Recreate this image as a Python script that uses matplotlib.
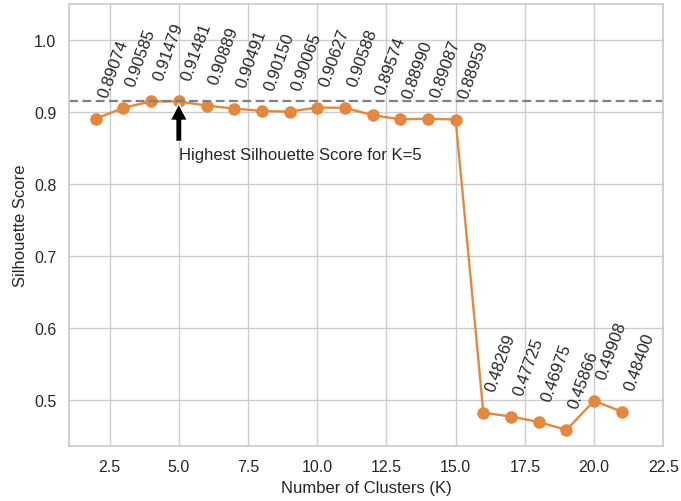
import matplotlib
matplotlib.use("Agg")
import matplotlib.pyplot as plt
import seaborn as sns

k_values = list(range(2, 22))
scores = [0.89074, 0.90585, 0.91479, 0.91481, 0.90889, 0.90491, 0.90150, 0.90065,
          0.90627, 0.90588, 0.89574, 0.88990, 0.89087, 0.88959, 0.48269, 0.47725,
          0.46975, 0.45866, 0.49908, 0.48400]
best_k = 5
best_score = 0.91481
annotation_text = "Highest Silhouette Score for K=5"

sns.set_theme(style="whitegrid")
plt.rcParams['font.family'] = ['Liberation Sans', 'DejaVu Sans']

fig = plt.figure(figsize=(6.81, 5.02), dpi=100)
ax = fig.add_axes([0.102, 0.109, 0.872, 0.881])

ax.plot(k_values, scores, marker='o', color='#e5883f', linewidth=1.7, markersize=8)
ax.axhline(best_score, color='gray', linestyle=(0, (4, 2)), linewidth=1.6)

for k, s in zip(k_values, scores):
    ax.annotate(f"{s:.5f}", (k, s), textcoords="offset points", xytext=(0, 14),
                ha='left', va='bottom', rotation=70, fontsize=12, color='.15')

ax.annotate(annotation_text, xy=(best_k, best_score), xytext=(best_k, best_score - 0.08),
            arrowprops=dict(facecolor='black', shrink=0.05, width=4.5, headwidth=12.5),
            fontsize=12, color='.15')

ax.set_xlim(1.05, 22.5)
ax.set_ylim(0.436, 1.05)
ax.tick_params(labelsize=11.5, colors='.15')
ax.set_xlabel("Number of Clusters (K)", fontsize=12, color='.15')
ax.set_ylabel("Silhouette Score", fontsize=12, color='.15')

fig.savefig("out.png", dpi=100)
